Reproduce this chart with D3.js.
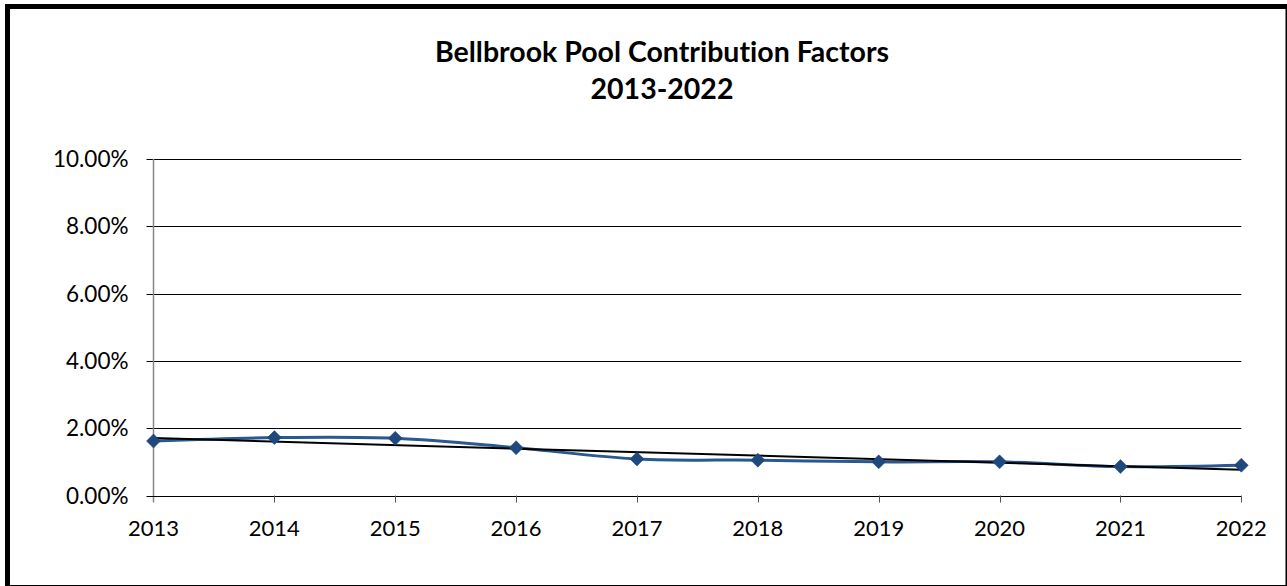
<!DOCTYPE html>
<html>
<head>
<meta charset="utf-8">
<script src="https://cdn.jsdelivr.net/npm/d3@7"></script>
<style>
  html, body { margin: 0; padding: 0; background: #fff; }
  svg { display: block; }
  text { font-family: Lato, "Open Sans", sans-serif; fill: #000; font-variant-ligatures: none; }
</style>
</head>
<body>
<svg id="chart" width="1287" height="586"></svg>
<script>
const titleLines = ["Bellbrook Pool Contribution Factors", "2013-2022"];
const years = ["2013","2014","2015","2016","2017","2018","2019","2020","2021","2022"];
const factors = [0.0162, 0.0172, 0.0170, 0.0142, 0.01085, 0.0105, 0.0100, 0.0100, 0.0086, 0.0090];
const yTicks = [0, 0.02, 0.04, 0.06, 0.08, 0.10];

(function () {
const svg = d3.select("#chart");
const pLeft = 153.5, pRight = 1241.3, pTop = 159, pBottom = 495.5;

svg.append("rect").attr("x", 7.5).attr("y", 6.5).attr("width", 1280.5).attr("height", 581)
  .attr("fill", "#fff").attr("stroke", "#000").attr("stroke-width", 5);

const x = d3.scalePoint().domain(years).range([pLeft, pRight]);
const y = d3.scaleLinear().domain([0, 0.10]).range([pBottom, pTop]);

// gridlines
svg.append("g").selectAll("line").data(yTicks.filter(d => d > 0)).join("line")
  .attr("x1", pLeft - 7).attr("x2", pRight)
  .attr("y1", d => Math.round(y(d)) + 0.5).attr("y2", d => Math.round(y(d)) + 0.5)
  .attr("stroke", "#000").attr("stroke-width", 1);

// y axis
svg.append("line").attr("x1", pLeft).attr("x2", pLeft).attr("y1", pTop).attr("y2", pBottom + 7)
  .attr("stroke", "#868686").attr("stroke-width", 1.5);
// x axis
svg.append("line").attr("x1", pLeft - 7).attr("x2", pRight).attr("y1", Math.round(pBottom) + 0.5).attr("y2", Math.round(pBottom) + 0.5)
  .attr("stroke", "#000").attr("stroke-width", 1);
svg.append("g").selectAll("line").data(years.slice(1)).join("line")
  .attr("x1", d => Math.round(x(d)) + 0.5).attr("x2", d => Math.round(x(d)) + 0.5)
  .attr("y1", pBottom).attr("y2", pBottom + 7)
  .attr("stroke", "#555").attr("stroke-width", 1);

// y labels
svg.append("g").selectAll("text").data(yTicks).join("text")
  .attr("x", pLeft - 25).attr("y", d => y(d)).attr("dy", "0.36em")
  .attr("text-anchor", "end").attr("font-size", 22.5)
  .text(d => d3.format(".2%")(d));

// x labels
svg.append("g").selectAll("text").data(years).join("text")
  .attr("x", d => x(d)).attr("y", 536)
  .attr("text-anchor", "middle").attr("font-size", 22)
  .text(d => d);

// title
svg.append("g").selectAll("text").data(titleLines).join("text")
  .attr("x", 662).attr("y", (d, i) => 62 + i * 37)
  .attr("text-anchor", "middle").attr("font-size", 28.5).attr("font-weight", "bold")
  .text(d => d);

// series line
const pts = years.map((yr, i) => [yr, factors[i]]);
svg.append("path").datum(pts)
  .attr("fill", "none").attr("stroke", "#2a5891").attr("stroke-width", 3)
  .attr("d", d3.line().x(d => x(d[0])).y(d => y(d[1])).curve(d3.curveCardinal.tension(0)));

// linear trendline (least squares from data)
const n = factors.length;
const idx = d3.range(n);
const mx = d3.mean(idx), my = d3.mean(factors);
const slope = d3.sum(idx, i => (i - mx) * (factors[i] - my)) / d3.sum(idx, i => (i - mx) ** 2);
const intercept = my - slope * mx;
svg.append("line")
  .attr("x1", x(years[0])).attr("y1", y(intercept))
  .attr("x2", x(years[n - 1])).attr("y2", y(intercept + slope * (n - 1)))
  .attr("stroke", "#000").attr("stroke-width", 2);

// markers
svg.append("g").selectAll("path").data(pts).join("path")
  .attr("transform", d => `translate(${x(d[0])},${y(d[1])})`)
  .attr("d", "M0,-7L7,0L0,7L-7,0Z")
  .attr("fill", "#1f497d").attr("stroke", "#1f497d").attr("stroke-width", 0.5);
})();
</script>
</body>
</html>
